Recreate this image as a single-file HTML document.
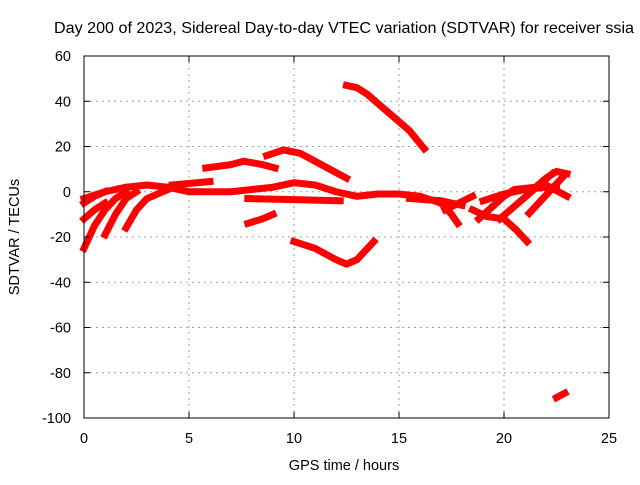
<!DOCTYPE html>
<html><head><meta charset="utf-8"><style>
body{margin:0;background:#fff}
svg text{font-family:"Liberation Sans",sans-serif;font-size:14.5px;fill:#000}
</style></head><body>
<svg id="chart" width="640" height="480" xmlns="http://www.w3.org/2000/svg">
<text x="344" y="33" text-anchor="middle" style="font-size:16px" textLength="580" lengthAdjust="spacingAndGlyphs">Day 200 of 2023, Sidereal Day-to-day VTEC variation (SDTVAR) for receiver ssia</text>
<text x="344" y="470" text-anchor="middle">GPS time / hours</text>
<text transform="translate(19,237) rotate(-90)" text-anchor="middle">SDTVAR / TECUs</text>
<g id="grid"></g><g id="series"></g><g id="axes"></g>
</svg>
<script>
const xTicks=[0,5,10,15,20,25];
const yTicks=[60,40,20,0,-20,-40,-60,-80,-100];
const trackA=[[12.5,47],[13,46],[13.5,43],[14.5,35],[15.5,27],[16.2,19]];
const trackB=[[8.7,16],[9.5,18.5],[10.3,17],[11.5,11],[12.5,6]];
const trackC=[[5.8,10.5],[7,12],[7.6,13.5],[8.5,12],[9.1,10.5]];
const trackD=[[0,-3],[1,0],[2,2],[3,3],[4,2],[5,0],[6,0],[7,0],[8,1],[9,2],[10,4],[11,3],[12,0],[13,-2],[14,-1],[15,-1],[16,-2],[17,-5],[17.5,-10],[17.8,-14]];
const trackE=[[7.8,-3],[10,-3.5],[12.2,-4]];
const trackF=[[4.2,3],[6,4.5]];
const trackG=[[7.8,-14],[8.5,-12],[9,-10]];
const trackH=[[10,-22],[11,-25],[12,-30],[12.5,-32],[13,-30],[13.8,-22]];
const trackI=[[0,-25],[0.5,-15],[1,-8],[1.5,-3],[2,0]];
const trackJ=[[1,-19],[1.5,-10],[2,-3],[2.5,0]];
const trackK=[[2,-16],[2.5,-8],[3,-3],[4,1]];
const trackL=[[0,-12],[0.5,-8],[1,-5]];
const trackM=[[0,-5],[0.5,-2],[1,0]];
const trackN=[[15.5,-3],[17,-4],[18,-6]];
const trackO=[[17.2,-8],[18.5,-2]];
const trackP=[[18.5,-8],[19.2,-11],[20,-12],[20.6,-17],[21.1,-22]];
const trackQ=[[19.8,-12],[22.3,8]];
const trackR=[[21.2,-9.5],[22.8,6.5]];
const trackS=[[20.5,0.5],[21.5,2],[22,6],[22.5,9],[23,8]];
const trackT=[[22,3],[23,-2]];
const trackU=[[18.8,-12],[20,-2],[20.5,1],[21.5,2],[22.5,2]];
const trackV=[[19,-4],[20,-1],[21,1],[22,2]];
const trackW=[[22.5,-91],[22.9,-89]];
const tracks=[trackA,trackB,trackC,trackD,trackE,trackF,trackG,trackH,trackI,trackJ,trackK,trackL,trackM,trackN,trackO,trackP,trackQ,trackR,trackS,trackT,trackU,trackV,trackW];
const X0=84,X1=609,Y0=418,Y1=56;
const sx=h=>X0+(h-0)/(25-0)*(X1-X0);
const sy=v=>Y0-(v+100)/(160)*(Y0-Y1);
const NS="http://www.w3.org/2000/svg";
function mk(t,a,p){const e=document.createElementNS(NS,t);for(const k in a)e.setAttribute(k,a[k]);p.appendChild(e);return e;}
const grid=document.getElementById('grid'),axes=document.getElementById('axes'),ser=document.getElementById('series');
xTicks.forEach(t=>{const x=sx(t);
 if(t>0&&t<25){const g=mk('line',{x1:x,x2:x,y1:Y1,y2:Y0,stroke:'#a0a0a0','stroke-dasharray':'2,4'},grid);
 
 }
 mk('line',{x1:x,x2:x,y1:Y0,y2:Y0-6,stroke:'#000'},axes);mk('line',{x1:x,x2:x,y1:Y1,y2:Y1+6,stroke:'#000'},axes);
 const l=mk('text',{x:x,y:Y0+25,'text-anchor':'middle'},axes);l.textContent=t;
 
 });
yTicks.forEach(t=>{const y=sy(t);
 if(t>-100&&t<60){const g=mk('line',{x1:X0,x2:X1,y1:y,y2:y,stroke:'#a0a0a0','stroke-dasharray':'2,4'},grid);
 
 }
 mk('line',{x1:X0,x2:X0+6,y1:y,y2:y,stroke:'#000'},axes);mk('line',{x1:X1,x2:X1-6,y1:y,y2:y,stroke:'#000'},axes);
 const l=mk('text',{x:X0-13,y:y+5,'text-anchor':'end'},axes);l.textContent=t;
 
 });
const b=mk('rect',{x:X0,y:Y1,width:X1-X0,height:Y0-Y1,fill:'none',stroke:'#000'},axes);


tracks.forEach(tr=>{
 const p=mk('polyline',{points:tr.map(d=>sx(d[0])+','+sy(d[1])).join(' '),fill:'none',stroke:'#f00','stroke-width':7,'stroke-linejoin':'round','stroke-linecap':'square'},ser);
 
 });
</script>
</body></html>
